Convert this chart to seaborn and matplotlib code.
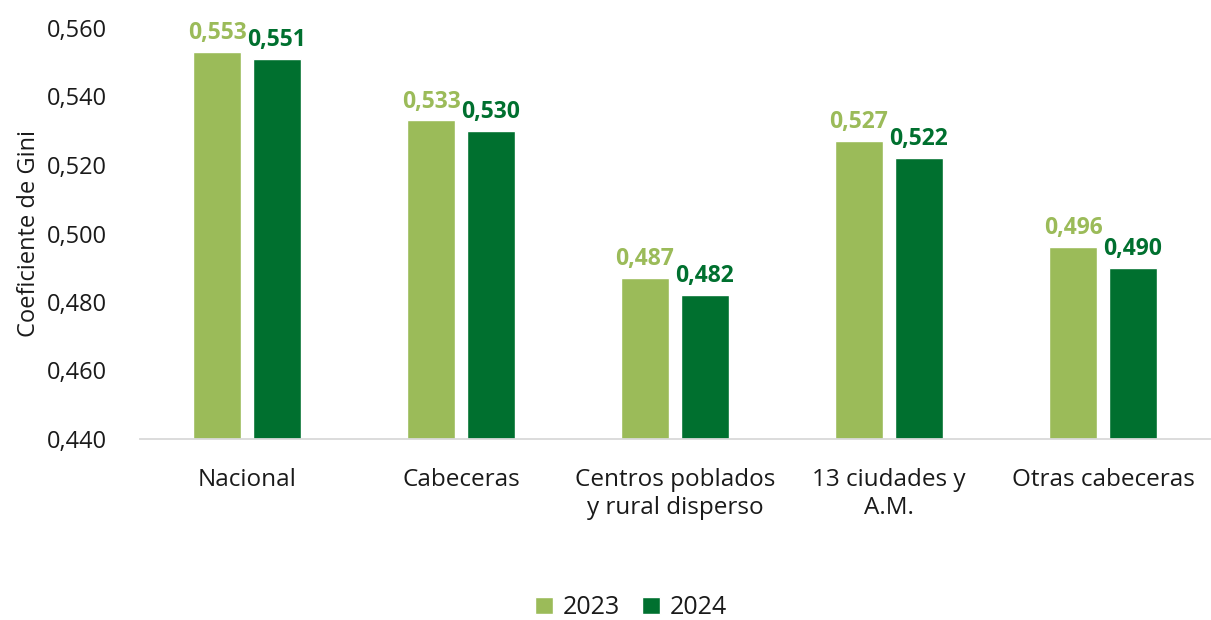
import pandas as pd
import matplotlib
matplotlib.use("Agg")
import matplotlib.pyplot as plt
import seaborn as sns
from matplotlib.ticker import FuncFormatter, MultipleLocator

# Data
categories = ["Nacional", "Cabeceras", "Centros poblados\ny rural disperso",
              "13 ciudades y\nA.M.", "Otras cabeceras"]
years = ["2023", "2024"]
gini_2023 = [0.553, 0.533, 0.487, 0.527, 0.496]
gini_2024 = [0.551, 0.530, 0.482, 0.522, 0.490]

colors = {"2023": "#9BBB59", "2024": "#00702F"}


def comma(x, pos=None):
    return f"{x:.3f}".replace(".", ",")


def main():
    df = pd.DataFrame({
        "categoria": categories * 2,
        "anio": [years[0]] * len(categories) + [years[1]] * len(categories),
        "gini": gini_2023 + gini_2024,
    })

    sns.set_style("white")
    plt.rcParams["font.family"] = ["Open Sans", "DejaVu Sans"]
    plt.rcParams["text.color"] = "#1A1A1A"
    plt.rcParams["xtick.color"] = "#1A1A1A"
    plt.rcParams["ytick.color"] = "#1A1A1A"

    fig = plt.figure(figsize=(12.11, 6.20), dpi=100)
    ax = fig.add_axes([140 / 1211, 1 - 439 / 620, 1070 / 1211, 411 / 620])

    sns.barplot(data=df, x="categoria", y="gini", hue="anio", palette=colors,
                width=0.56, gap=0.2, ax=ax, legend=True, saturation=1)

    ax.set_ylim(0.44, 0.56)
    ax.set_xlim(-0.5, len(categories) - 0.5)
    ax.yaxis.set_major_locator(MultipleLocator(0.02))
    ax.yaxis.set_major_formatter(FuncFormatter(comma))
    ax.tick_params(axis="y", labelsize=17, length=0, pad=24)
    ax.tick_params(axis="x", labelsize=17.5, length=0, pad=21)
    ax.set_xlabel("")
    ax.set_ylabel("Coeficiente de Gini", fontsize=17, labelpad=4,
                  color="#1A1A1A")

    for side in ["top", "right", "left"]:
        ax.spines[side].set_visible(False)
    ax.spines["bottom"].set_color("#D9D9D9")
    ax.spines["bottom"].set_linewidth(1.3)

    for cont, yr in zip(ax.containers, years):
        ax.bar_label(cont, labels=[comma(v) for v in cont.datavalues],
                     padding=5, fontsize=16.5, fontweight="bold",
                     color=colors[yr], clip_on=False)

    ax.legend(loc="center", bbox_to_anchor=(0.5 - 0.041, -0.41),
              ncol=2, frameon=False, fontsize=18, handlelength=0.7,
              handleheight=0.7, handletextpad=0.4, columnspacing=0.9)

    fig.savefig("out.png", dpi=100)


main()
